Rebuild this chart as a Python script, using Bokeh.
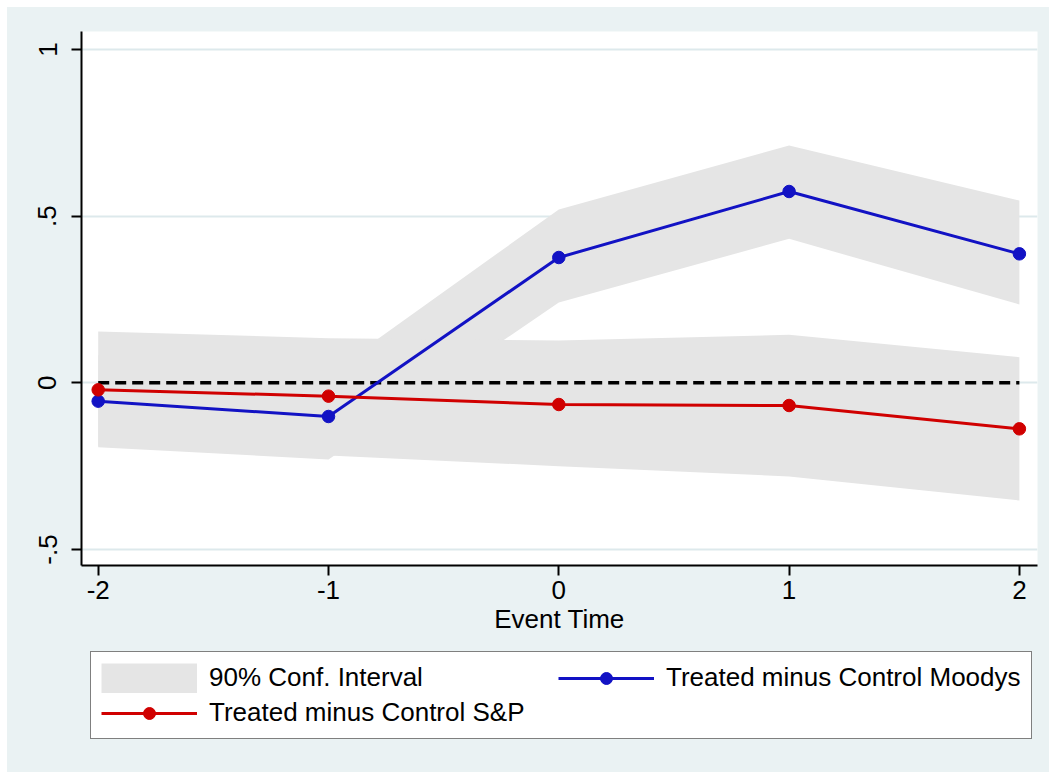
from bokeh.plotting import figure
from bokeh.layouts import column
from bokeh.models import FixedTicker, Legend, LegendItem
from bokeh.embed import file_html
from bokeh.resources import INLINE

# Event-study estimates (treated minus control) with 90% confidence bands
event_time = [-2, -1, 0, 1, 2]

moodys = [-0.055, -0.101, 0.376, 0.574, 0.387]
moodys_lo = [-0.193, -0.230, 0.241, 0.432, 0.235]
moodys_hi = [0.083, 0.026, 0.520, 0.712, 0.547]

sp = [-0.021, -0.040, -0.065, -0.068, -0.138]
sp_lo = [-0.190, -0.218, -0.250, -0.281, -0.353]
sp_hi = [0.154, 0.134, 0.127, 0.144, 0.077]

zero_line = [0, 0, 0, 0, 0]

x_ticks = [-2, -1, 0, 1, 2]
x_tick_labels = ["-2", "-1", "0", "1", "2"]
y_ticks = [-0.5, 0, 0.5, 1]
y_tick_labels = ["-.5", "0", ".5", "1"]

legend_labels = ["90% Conf. Interval", "Treated minus Control Moodys", "Treated minus Control S&P"]

FONT = "Liberation Sans"
FSIZE = "26px"
BG = "#EAF2F3"
BAND = "#E5E5E5"
BLUE = "#1212C4"
RED = "#D00000"

p = figure(
    width=1042, height=638,
    x_range=(-2.0725, 2.0786), y_range=(-0.548, 1.054),
    output_backend="svg", toolbar_location=None,
    min_border_left=74, min_border_right=12,
    min_border_top=24, min_border_bottom=80,
    background_fill_color="white", border_fill_color=BG,
    outline_line_color=None,
)

# confidence bands
p.varea(x=event_time, y1=moodys_lo, y2=moodys_hi, fill_color=BAND, fill_alpha=1)
p.varea(x=event_time, y1=sp_lo, y2=sp_hi, fill_color=BAND, fill_alpha=1)

# zero reference line
p.line(event_time, zero_line, line_color="black", line_width=3.5, line_dash="11 6")

# point estimates
p.line(event_time, moodys, line_color=BLUE, line_width=3)
p.scatter(event_time, moodys, size=12.5, fill_color=BLUE, line_color=BLUE)
p.line(event_time, sp, line_color=RED, line_width=3)
p.scatter(event_time, sp, size=12.5, fill_color=RED, line_color=RED)

# axes
p.xaxis.ticker = FixedTicker(ticks=x_ticks)
p.xaxis.major_label_overrides = {t: s for t, s in zip(x_ticks, x_tick_labels)}
p.yaxis.ticker = FixedTicker(ticks=y_ticks)
p.yaxis.major_label_overrides = {t: s for t, s in zip(y_ticks, y_tick_labels)}
p.yaxis.major_label_orientation = "vertical"
p.xaxis.axis_label = "Event Time"

for ax in (p.xaxis, p.yaxis):
    ax.axis_line_color = "black"
    ax.axis_line_width = 2
    ax.major_tick_line_color = "black"
    ax.major_tick_line_width = 2
    ax.major_tick_out = 10
    ax.major_tick_in = 0
    ax.minor_tick_line_color = None
    ax.major_label_text_font = FONT
    ax.major_label_text_font_size = FSIZE
    ax.major_label_text_color = "black"
    ax.axis_label_text_font = FONT
    ax.axis_label_text_font_size = FSIZE
    ax.axis_label_text_font_style = "normal"
    ax.axis_label_text_color = "black"

p.xaxis.major_label_standoff = 5
p.xaxis.axis_label_standoff = 2
p.yaxis.major_label_standoff = 15

p.xgrid.grid_line_color = None
p.ygrid.ticker = FixedTicker(ticks=y_ticks)
p.ygrid.grid_line_color = "#DDE9EC"
p.ygrid.grid_line_width = 2

# legend panel underneath the plot; its ranges sit away from the series so
# only the legend keys are shown
lg = figure(
    width=1042, height=127,
    x_range=(100, 101), y_range=(100, 101),
    x_axis_type=None, y_axis_type=None,
    output_backend="svg", toolbar_location=None,
    min_border=0, min_border_left=74, min_border_right=12,
    min_border_top=0, min_border_bottom=0,
    background_fill_color=BG, border_fill_color=BG,
    outline_line_color=None,
)
lg.grid.visible = False

key_ci = lg.line(event_time, sp_lo, line_color=BAND, line_width=30, line_cap="butt")
key_m_line = lg.line(event_time, moodys, line_color=BLUE, line_width=3)
key_m_dot = lg.scatter(event_time, moodys, size=12, fill_color=BLUE, line_color=BLUE)
key_s_line = lg.line(event_time, sp, line_color=RED, line_width=3)
key_s_dot = lg.scatter(event_time, sp, size=12, fill_color=RED, line_color=RED)

legend = Legend(
    items=[
        LegendItem(label=legend_labels[0], renderers=[key_ci]),
        LegendItem(label=legend_labels[1], renderers=[key_m_line, key_m_dot]),
        LegendItem(label=legend_labels[2], renderers=[key_s_line, key_s_dot]),
    ],
    location=(9, 33),
    orientation="horizontal",
    ncols=2,
    margin=0,
    glyph_width=96, glyph_height=30,
    label_width=345, label_height=30,
    label_standoff=12, spacing=4, padding=10,
    label_text_font=FONT, label_text_font_size=FSIZE, label_text_color="black",
    border_line_color="black", border_line_width=1.5,
    background_fill_color="white", background_fill_alpha=1,
)
lg.add_layout(legend)

layout = column(p, lg, spacing=0)
layout.margin = (7, 0, 0, 7)
layout.styles = {"background-color": BG}

open("out.html", "w").write(file_html(layout, INLINE))
